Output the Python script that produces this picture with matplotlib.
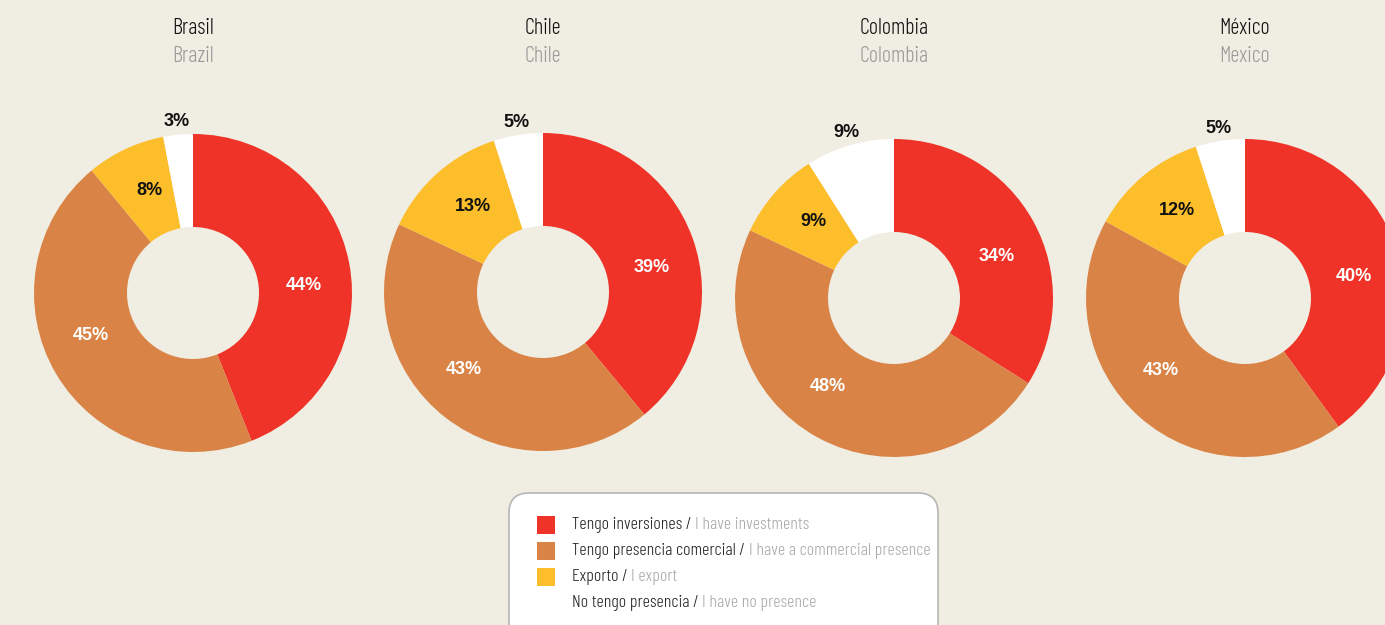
"""
Donut charts: market presence by country (Brasil, Chile, Colombia, México)
"""

import numpy as np
import matplotlib
matplotlib.use('Agg')
import matplotlib.pyplot as plt
from matplotlib import font_manager
from matplotlib.patches import FancyBboxPatch, Rectangle

# Data
countries = ['Brasil', 'Chile', 'Colombia', 'México']
countries_en = ['Brazil', 'Chile', 'Colombia', 'Mexico']
investments = [44, 39, 34, 40]
commercial = [45, 43, 48, 43]
export = [8, 13, 9, 12]
no_presence = [3, 5, 9, 5]

legend_es = ['Tengo inversiones / ', 'Tengo presencia comercial / ',
             'Exporto / ', 'No tengo presencia / ']
legend_en = ['I have investments', 'I have a commercial presence',
             'I export', 'I have no presence']

# Style
BG = '#f0ede2'
COLORS = ['#ef3328', '#d98446', '#fdbe2c', '#ffffff']
LABEL_COLORS = ['white', 'white', '#111111', '#111111']
LABEL_TURN = [7, 8, 2, 0]   # small clockwise nudge of the percentage labels
W, H = 1385, 625

# Narrow light font for titles / legend, whichever is installed first
fonts = {(f.name, f.weight) for f in font_manager.fontManager.ttflist}
names = {n for n, _ in fonts}
NARROW = dict(family='DejaVu Sans')
for fam in ['Barlow Condensed', 'Roboto Condensed', 'Fira Sans Condensed',
            'Open Sans Condensed']:
    if fam in names:
        light = [wt for n, wt in fonts if n == fam and wt in (300, 'light')]
        NARROW = dict(family=fam, weight=300 if light else 'normal')
        break
BOLD = dict(family='Liberation Sans', weight='bold')

fig = plt.figure(figsize=(W / 100, H / 100), dpi=100)
fig.patch.set_facecolor(BG)
ax = fig.add_axes([0, 0, 1, 1])
ax.set_facecolor(BG)

# pixel-like coordinates, y measured from the top
def py(y):
    return H - y

centers = [(193, 293), (543, 292), (894, 298), (1245, 298)]
R_OUT, R_IN = 159, 66

for i, name in enumerate(countries):
    cx, cy = centers[i][0], py(centers[i][1])
    vals = [investments[i], commercial[i], export[i], no_presence[i]]
    wedges, _ = ax.pie(vals, colors=COLORS, startangle=90, counterclock=False,
                       center=(cx, cy), radius=R_OUT,
                       wedgeprops=dict(width=R_OUT - R_IN, edgecolor='none'))

    for k, (w, v) in enumerate(zip(wedges, vals)):
        mid = np.deg2rad((w.theta1 + w.theta2) / 2 - LABEL_TURN[k])
        r = 172 if k == 3 else 111
        ax.text(cx + r * np.cos(mid), cy + r * np.sin(mid), f'{v}%',
                ha='center', va='center', fontsize=13,
                color=LABEL_COLORS[k], **BOLD)

    ax.text(centers[i][0], py(29), name, ha='center', va='center',
            fontsize=16, color='#111111', **NARROW)
    ax.text(centers[i][0], py(57), countries_en[i], ha='center', va='center',
            fontsize=16, color='#9a9a9a', **NARROW)

# Legend box
box = FancyBboxPatch((509, py(650)), 429, 157,
                     boxstyle='round,pad=0,rounding_size=20',
                     facecolor='white', edgecolor='#b5b5b5', linewidth=1.2)
ax.add_patch(box)

rows = [525, 551, 577, 603]
for k in range(4):
    y = py(rows[k])
    ax.add_patch(Rectangle((537, y - 9), 18, 18, facecolor=COLORS[k],
                           edgecolor='none'))
    t = ax.text(572, y, legend_es[k], ha='left', va='center',
                fontsize=13, color='#222222', **NARROW)
    ax.annotate(legend_en[k], xy=(1, 0), xycoords=t, ha='left', va='bottom',
                fontsize=13, color='#a8a8a8', **NARROW)

ax.set_xlim(0, W)
ax.set_ylim(0, H)
ax.set_aspect('equal')
ax.axis('off')

plt.savefig('out.png', dpi=100, facecolor=BG)
